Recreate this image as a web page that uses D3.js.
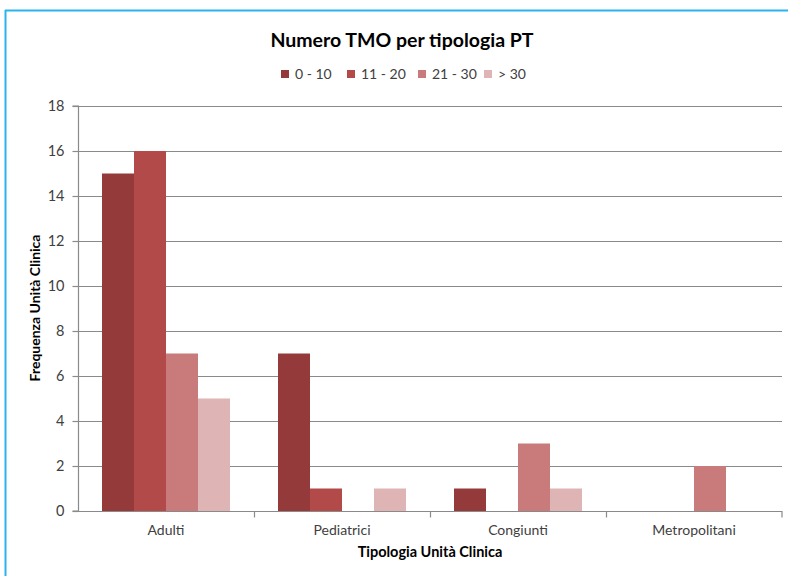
<!DOCTYPE html>
<html><head><meta charset="utf-8">
<script src="https://cdn.jsdelivr.net/npm/d3@7"></script>
<style>body{margin:0;background:#fff;}svg{display:block;font-family:Lato,"Open Sans",sans-serif;}</style>
</head><body><svg id="c" width="788" height="576"></svg>
<script>
const categories = ["Adulti", "Pediatrici", "Congiunti", "Metropolitani"];
const seriesNames = ["0 - 10", "11 - 20", "21 - 30", "> 30"];
const s0_10 = [15, 7, 1, 0];
const s11_20 = [16, 1, 0, 0];
const s21_30 = [7, 0, 3, 2];
const s30plus = [5, 1, 1, 0];
const colors = ["#953a3a", "#b14a48", "#c97b7b", "#dfb4b4"];
const yTicks = [0, 2, 4, 6, 8, 10, 12, 14, 16, 18];

const seriesValues = [s0_10, s11_20, s21_30, s30plus];
const svg = d3.select("#c");
const m = {l: 78, r: 6, t: 106, b: 65};
const W = 788, H = 576;
const x = d3.scaleBand().domain(categories).range([m.l, W - m.r]).paddingInner(0).paddingOuter(0);
const xs = d3.scaleBand().domain(seriesNames).range([0, x.bandwidth()]).paddingInner(0).paddingOuter(0.75);
const y = d3.scaleLinear().domain([0, 18]).range([H - m.b, m.t]);

// frame
svg.append("line").attr("x1", 5).attr("x2", W).attr("y1", 10.5).attr("y2", 10.5).attr("stroke", "#2ab4ee").attr("stroke-width", 2);
svg.append("line").attr("x1", 5.5).attr("x2", 5.5).attr("y1", 10).attr("y2", H).attr("stroke", "#2ab4ee").attr("stroke-width", 2);

// gridlines
svg.append("g").selectAll("line").data(yTicks.filter(d => d > 0)).join("line")
  .attr("x1", m.l).attr("x2", W - m.r).attr("y1", d => Math.round(y(d)) + 0.5).attr("y2", d => Math.round(y(d)) + 0.5)
  .attr("stroke", "#8a8a8a").attr("stroke-width", 1.2);

// bars
const groups = svg.append("g").selectAll("g").data(categories).join("g")
  .attr("transform", c => `translate(${x(c)},0)`);
groups.selectAll("rect").data((c, i) => seriesNames.map((s, j) => ({s, j, v: seriesValues[j][i]}))).join("rect")
  .attr("x", d => xs(d.s)).attr("width", xs.bandwidth())
  .attr("y", d => y(d.v)).attr("height", d => y(0) - y(d.v))
  .attr("fill", d => colors[d.j]);

// y axis
const ya = svg.append("g").attr("transform", `translate(${m.l + 0.5},0)`)
  .call(d3.axisLeft(y).tickValues(yTicks).tickSize(6).tickPadding(8));
ya.select(".domain").attr("stroke", "#8a8a8a").attr("stroke-width", 1.2).attr("d", `M-6,${y(18)}H0V${y(0)}H-6`);
ya.selectAll(".tick line").attr("stroke", "#8a8a8a").attr("stroke-width", 1.2);
ya.selectAll(".tick text").attr("fill", "#404040").style("font-size", "14.5px").style("font-family", "Lato");

// x axis
const xa = svg.append("g").attr("transform", `translate(0,${Math.round(y(0)) + 0.5})`)
  .call(d3.axisBottom(x).tickSize(0).tickPadding(14));
xa.select(".domain").attr("stroke", "#8a8a8a").attr("stroke-width", 1.2).attr("d", `M${m.l},0H${W - m.r}V6`);
xa.selectAll(".tick text").attr("fill", "#404040").style("font-size", "14px").style("font-family", "Lato");
xa.append("g").selectAll("line").data(categories.slice(1)).join("line")
  .attr("x1", c => x(c) + 0.5).attr("x2", c => x(c) + 0.5).attr("y1", 0).attr("y2", 6)
  .attr("stroke", "#8a8a8a").attr("stroke-width", 1.2);

// titles
svg.append("text").attr("x", 402).attr("y", 47).attr("text-anchor", "middle")
  .style("font-size", "19.5px").style("font-weight", "bold").attr("fill", "#000").text("Numero TMO per tipologia PT");
svg.append("text").attr("x", 430).attr("y", 557).attr("text-anchor", "middle")
  .style("font-size", "14.5px").style("font-weight", "bold").attr("fill", "#000").text("Tipologia Unità Clinica");
svg.append("text").attr("transform", "translate(40,308) rotate(-90)").attr("text-anchor", "middle")
  .style("font-size", "14px").style("font-weight", "bold").attr("fill", "#000").text("Frequenza Unità Clinica");

// legend
const legX = [281, 347, 418, 484];
const lg = svg.append("g").selectAll("g").data(seriesNames).join("g")
  .attr("transform", (d, i) => `translate(${legX[i]},70)`);
lg.append("rect").attr("width", 8).attr("height", 8).attr("fill", (d, i) => colors[i]);
lg.append("text").attr("x", 14).attr("y", 9).style("font-size", "14px").attr("fill", "#404040").text(d => d);
</script></body></html>
